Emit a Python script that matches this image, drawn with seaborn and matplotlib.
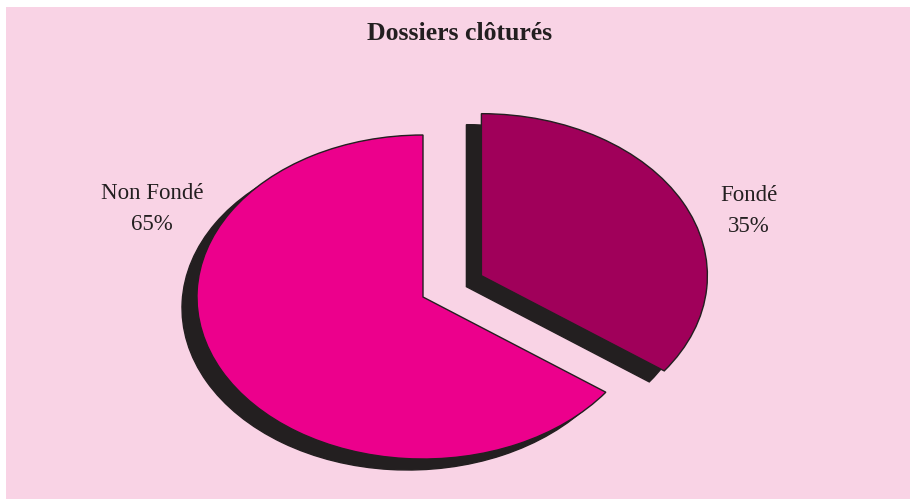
import matplotlib
matplotlib.use("Agg")
import matplotlib.pyplot as plt
import matplotlib.patches as mpatches
import seaborn as sns

# Data
categories = ["Fondé", "Non Fondé"]
shares = [35, 65]
label_texts = ["Fondé\n35%", "Non Fondé\n65%"]
explode = [0.29, 0]

sns.set_style("white")
plt.rcParams['font.family'] = ['Liberation Serif', 'DejaVu Serif']

W, H = 910, 499
BG = "#F9D3E5"
DARK = "#231F20"
palette = sns.color_palette(["#A0005A", "#EC008C"])

fig = plt.figure(figsize=(W / 100, H / 100), dpi=100)
fig.patch.set_facecolor("white")
fig.patches.append(mpatches.Rectangle((6 / W, 0), 1 - 6 / W, 1 - 7 / H,
                                      transform=fig.transFigure,
                                      facecolor=BG, edgecolor="none", zorder=-5))

ax = fig.add_axes([0, 0, 1, 1])
ax.set_facecolor("none")

# pie center and radii in pixels (ellipse look)
cx, cy = 423, 297
rx, ry = 226, 162
sx, sy = -15 / rx, -11 / ry  # shadow offset in data units

# shadow
ax.pie(shares, explode=explode, startangle=90, counterclock=False,
       colors=[DARK, DARK], center=(sx, sy),
       wedgeprops=dict(edgecolor=DARK, linewidth=1))
# slices
ax.pie(shares, explode=explode, startangle=90, counterclock=False,
       colors=palette,
       wedgeprops=dict(edgecolor=DARK, linewidth=1))

ax.set_aspect("auto")
ax.set_xlim(-cx / rx, (W - cx) / rx)
ax.set_ylim(-(H - cy) / ry, cy / ry)
ax.axis("off")

# label positions in pixels
label_px = [(749, 211), (152, 209)]
for txt, (px, py) in zip(label_texts, label_px):
    ax.text((px - cx) / rx, (cy - py) / ry, txt, ha="center", va="center",
            fontsize=16.5, color=DARK, linespacing=1.6)

fig.text(460 / W, 1 - 34 / H, "Dossiers clôturés", ha="center", va="center",
         fontsize=18.5, fontweight="bold", color=DARK)

fig.savefig("out.png", dpi=100, facecolor=fig.get_facecolor())
